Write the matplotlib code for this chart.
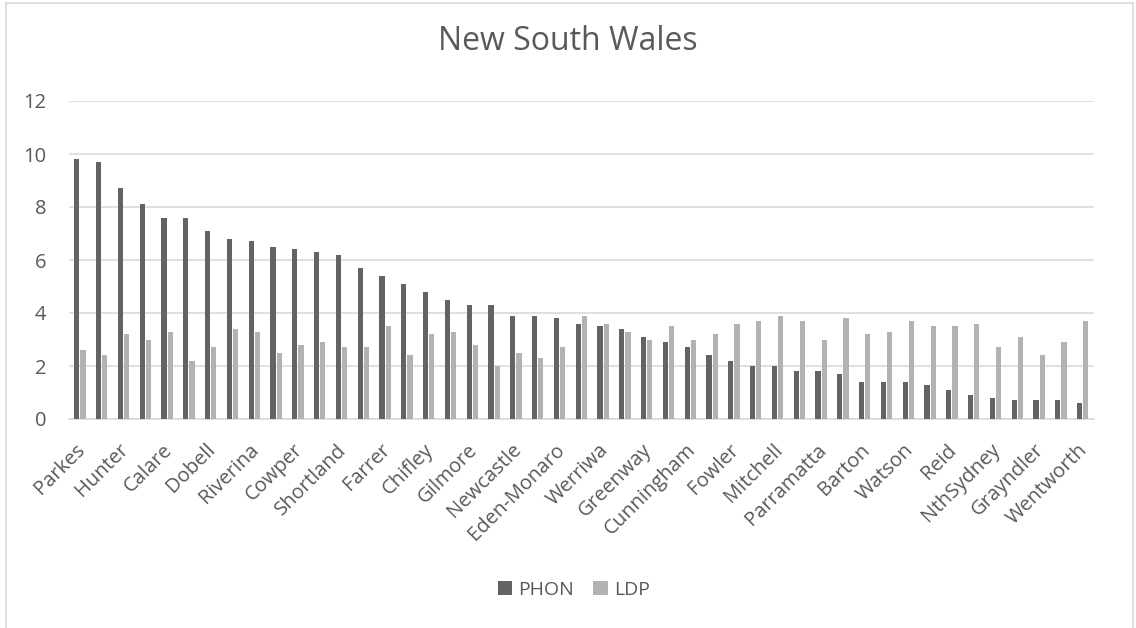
import numpy as np
import matplotlib
matplotlib.use('Agg')
import matplotlib.pyplot as plt
from matplotlib.lines import Line2D
from matplotlib.transforms import ScaledTranslation

# electorates, sorted by PHON vote (only every second name is shown on the axis)
divisions = ['Parkes', 'New England', 'Hunter', 'Paterson', 'Calare', 'Lyne',
             'Dobell', 'Page', 'Riverina', 'Hume', 'Cowper', 'Whitlam',
             'Shortland', 'Richmond', 'Farrer', 'Macarthur', 'Chifley', 'Lindsay',
             'Gilmore', 'Robertson', 'Newcastle', 'Macquarie', 'Eden-Monaro', 'Hughes',
             'Werriwa', 'McMahon', 'Greenway', 'Cook', 'Cunningham', 'Banks',
             'Fowler', 'Blaxland', 'Mitchell', 'Kingsford Smith', 'Parramatta', 'Berowra',
             'Barton', 'Bennelong', 'Watson', 'Mackellar', 'Reid', 'Bradfield',
             'NthSydney', 'Warringah', 'Grayndler', 'Sydney', 'Wentworth']

phon = [9.8, 9.7, 8.7, 8.1, 7.6, 7.6, 7.1, 6.8, 6.7, 6.5, 6.4, 6.3,
        6.2, 5.7, 5.4, 5.1, 4.8, 4.5, 4.3, 4.3, 3.9, 3.9, 3.8, 3.6,
        3.5, 3.4, 3.1, 2.9, 2.7, 2.4, 2.2, 2.0, 2.0, 1.8, 1.8, 1.7,
        1.4, 1.4, 1.4, 1.3, 1.1, 0.9, 0.8, 0.7, 0.7, 0.7, 0.6]

ldp = [2.6, 2.4, 3.2, 3.0, 3.3, 2.2, 2.7, 3.4, 3.3, 2.5, 2.8, 2.9,
       2.7, 2.7, 3.5, 2.4, 3.2, 3.3, 2.8, 2.0, 2.5, 2.3, 2.7, 3.9,
       3.6, 3.3, 3.0, 3.5, 3.0, 3.2, 3.6, 3.7, 3.9, 3.7, 3.0, 3.8,
       3.2, 3.3, 3.7, 3.5, 3.5, 3.6, 2.7, 3.1, 2.4, 2.9, 3.7]

yticks = [0, 2, 4, 6, 8, 10, 12]

c_phon = '#636363'
c_ldp = '#b2b2b2'
c_text = '#595959'
c_grid = '#d9d9d9'

plt.rcParams['font.family'] = ['Open Sans', 'DejaVu Sans']

fig = plt.figure(figsize=(11.36, 6.28), dpi=100)
ax = fig.add_axes([69 / 1136, 1 - 419 / 628, 1024.6 / 1136, 318 / 628])

x = np.arange(len(divisions))
w = 0.24
ax.bar(x - 0.145, phon, width=w, color=c_phon, label='PHON', zorder=3)
ax.bar(x + 0.145, ldp, width=w, color=c_ldp, label='LDP', zorder=3)

ax.set_xlim(-0.5, len(divisions) - 0.5)
ax.set_ylim(0, 12)
ax.set_yticks(yticks)
ax.yaxis.grid(True, color=c_grid, lw=1.2, zorder=0)
ax.set_axisbelow(True)
for s in ['top', 'right', 'left']:
    ax.spines[s].set_visible(False)
ax.spines['bottom'].set_color(c_grid)
ax.spines['bottom'].set_linewidth(1.2)

ax.set_xticks(x[::2])
ax.set_xticklabels(divisions[::2], rotation=45, ha='right', rotation_mode='anchor')
ax.tick_params(axis='x', length=0, pad=15, labelsize=14.5, labelcolor=c_text)
ax.tick_params(axis='y', length=0, pad=16.5, labelsize=14.5, labelcolor=c_text)
shift = ScaledTranslation(-5 / 100, 0, fig.dpi_scale_trans)
for lbl in ax.get_xticklabels():
    lbl.set_transform(lbl.get_transform() + shift)

fig.text(0.5, 1 - 42 / 628, 'New South Wales', ha='center', va='center',
         fontsize=23, color=c_text)

# legend below the labels
fig.legend(loc='center', bbox_to_anchor=(0.505, 1 - 590 / 628), ncol=2, frameon=False,
           fontsize=14, labelcolor=c_text, handlelength=0.75, handleheight=0.75,
           handletextpad=0.3, columnspacing=1.0)

# chart frame
fx0, fx1, fy1 = 5.5 / 1136, 1132.5 / 1136, 1 - 2.5 / 628
for xs, ys in [([fx0, fx0], [0, fy1]), ([fx1, fx1], [0, fy1]), ([fx0, fx1], [fy1, fy1])]:
    fig.add_artist(Line2D(xs, ys, color=c_grid, lw=1.2, transform=fig.transFigure))

fig.savefig('out.png', dpi=100)
